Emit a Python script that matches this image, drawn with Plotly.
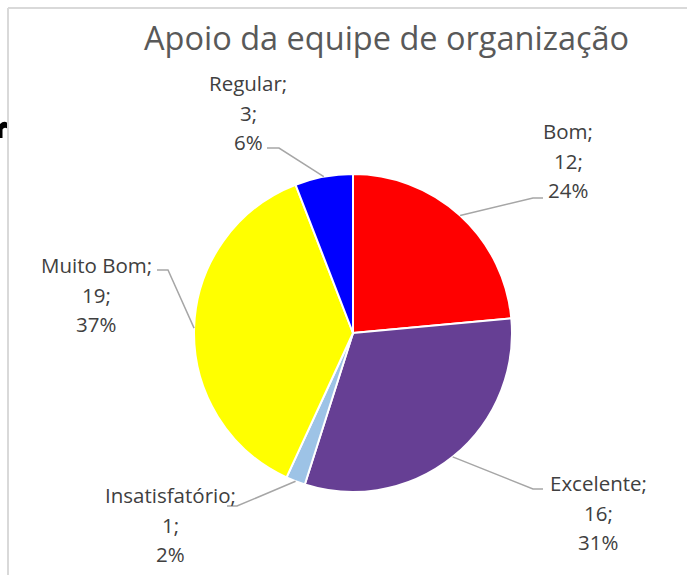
import math
import plotly.graph_objects as go

# ---- data ----
categories = ["Bom", "Excelente", "Insatisfatório", "Muito Bom", "Regular"]
values = [12, 16, 1, 19, 3]
colors = ["#FF0000", "#663F94", "#9DC3E6", "#FFFF00", "#0000FF"]
title_text = "Apoio da equipe de organização"

# ---- layout constants (pixels) ----
W, H = 687, 575
CX, CY, R = 353, 333, 159
FONT = "Open Sans"
# label centre x, first line y
label_pos = {
    "Bom": (568, 131),
    "Excelente": (598, 483),
    "Insatisfatório": (170, 495),
    "Muito Bom": (96, 265),
    "Regular": (248, 83),
}
# leader line: elbow then end (near label)
leader_pts = {
    "Bom": [(533, 198), (543, 198)],
    "Excelente": [(533, 489), (543, 489)],
    "Insatisfatório": [(237, 506), (227, 506)],
    "Muito Bom": [(168, 270), (157, 270)],
    "Regular": [(279, 148), (267, 148)],
}
LINE_GAP = 29.5

fig = go.Figure()
fig.add_trace(go.Pie(
    labels=categories, values=values, sort=False, direction="clockwise",
    rotation=0, textinfo="none", hoverinfo="label+value+percent",
    marker=dict(colors=colors, line=dict(color="white", width=2)),
    domain=dict(x=[(CX - R) / W, (CX + R) / W],
                y=[(H - CY - R) / H, (H - CY + R) / H]),
    showlegend=False,
))

shapes = []
annotations = []
total = sum(values)
cum = 0
for cat, v in zip(categories, values):
    mid = (cum + v / 2) / total * 2 * math.pi
    cum += v
    sx = CX + R * math.sin(mid)
    sy = CY - R * math.cos(mid)
    pts = [(sx, sy)] + leader_pts[cat]
    path = "M {} {}".format(*pts[0]) + "".join(" L {} {}".format(x, y) for x, y in pts[1:])
    shapes.append(dict(type="path", xref="x", yref="y", path=path,
                       line=dict(color="#A6A6A6", width=1.5)))
    pct = round(v / total * 100)
    lx, ly = label_pos[cat]
    for i, t in enumerate([f"{cat};", f"{v};", f"{pct}%"]):
        annotations.append(dict(xref="x", yref="y", x=lx, y=ly + i * LINE_GAP,
                                text=t, showarrow=False, xanchor="center", yanchor="middle",
                                font=dict(family=FONT, size=20.5, color="#404040")))

# title
annotations.append(dict(xref="x", yref="y", x=386, y=37, text=title_text, showarrow=False,
                        xanchor="center", yanchor="middle",
                        font=dict(family=FONT, size=32.5, color="#595959")))

# clipped black fragment at the left edge
shapes.append(dict(type="path", xref="x", yref="y",
                   path="M 0 124 Q 4 120 7.5 123 L 7.5 128.5 Q 4 126.5 2.5 129.5 L 2.5 138 L 0 138 Z",
                   fillcolor="black", line=dict(width=0)))

# frame
shapes.append(dict(type="line", xref="x", yref="y", x0=8, y0=8, x1=W, y1=8,
                   line=dict(color="#D9D9D9", width=2)))
shapes.append(dict(type="line", xref="x", yref="y", x0=8, y0=8, x1=8, y1=H,
                   line=dict(color="#D9D9D9", width=2)))

fig.update_layout(
    width=W, height=H, margin=dict(l=0, r=0, t=0, b=0),
    paper_bgcolor="white", plot_bgcolor="rgba(0,0,0,0)",
    xaxis=dict(range=[0, W], visible=False, domain=[0, 1], fixedrange=True),
    yaxis=dict(range=[H, 0], visible=False, domain=[0, 1], fixedrange=True),
    shapes=shapes, annotations=annotations,
)
fig.write_html("out.html", config={"displayModeBar": False},
               post_script="document.body.style.margin='0';document.body.style.overflow='hidden';")
